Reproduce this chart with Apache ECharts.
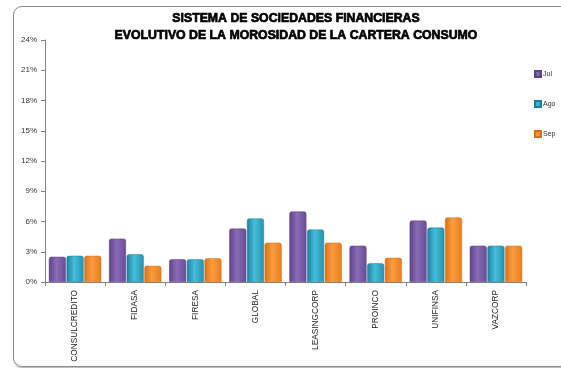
<!DOCTYPE html>
<html><head><meta charset="utf-8">
<script src="https://cdn.jsdelivr.net/npm/echarts@6/dist/echarts.min.js"></script>
<style>
html,body{margin:0;padding:0;background:#fff;}
#frame{position:absolute;left:13px;top:6px;width:560px;height:359px;border:1px solid #8a8a8a;border-radius:9px;box-shadow:1px 2px 2px #bbb;}
#c{position:absolute;left:0;top:0;width:561px;height:368px;}
</style></head>
<body>
<div id="frame"></div>
<div id="c"></div>
<script>
const categories = ['CONSULCREDITO','FIDASA','FIRESA','GLOBAL','LEASINGCORP','PROINCO','UNIFINSA','VAZCORP'];
const seriesNames = ['Jul','Ago','Sep'];
const julValues = [2.5, 4.3, 2.25, 5.3, 7.0, 3.6, 6.1, 3.6];
const agoValues = [2.6, 2.75, 2.25, 6.3, 5.2, 1.85, 5.4, 3.6];
const sepValues = [2.6, 1.6, 2.35, 3.9, 3.9, 2.4, 6.4, 3.6];
const yTicks = [0,3,6,9,12,15,18,21,24];

const colors = [
  ['#5e4385','#8a6bb6','#6a4c94'],
  ['#1f7f99','#44bedb','#2790ad'],
  ['#d8701a','#fb9c3c','#e57d20']
];
function grad(c){
  return new echarts.graphic.LinearGradient(0,0,1,0,[
    {offset:0,color:c[0]},{offset:0.45,color:c[1]},{offset:1,color:c[2]}
  ]);
}
const allValues = [julValues, agoValues, sepValues];
const chart = echarts.init(document.getElementById('c'));
chart.setOption({
  animation:false,
  title:{
    text:'SISTEMA DE SOCIEDADES FINANCIERAS\nEVOLUTIVO DE LA MOROSIDAD DE LA CARTERA CONSUMO',
    left:291, top:5, textAlign:'center',
    textStyle:{fontFamily:'Liberation Sans',fontWeight:'bold',fontSize:12.3,lineHeight:17,color:'#000',
      textBorderColor:'#000',textBorderWidth:0.7}
  },
  legend:{
    orient:'vertical', left:529, top:65, itemWidth:6, itemHeight:6, itemGap:22,
    icon:'rect',
    textStyle:{fontSize:7,color:'#333',fontFamily:'Liberation Sans',padding:[0,0,0,-3]},
    data:seriesNames
  },
  grid:{left:45,right:35,top:40,bottom:86},
  xAxis:{
    type:'category', data:categories,
    axisLine:{lineStyle:{color:'#808080'}},
    axisTick:{show:true,alignWithLabel:false,length:4,lineStyle:{color:'#808080'}},
    axisLabel:{rotate:90,fontSize:8.3,color:'#222',fontFamily:'Liberation Sans',margin:8}
  },
  yAxis:{
    type:'value', min:0, max:24, interval:3,
    axisLine:{show:true,lineStyle:{color:'#808080'}},
    axisTick:{show:true,inside:false,length:4,lineStyle:{color:'#808080'}},
    splitLine:{show:false},
    axisLabel:{formatter:v=>v+'%',fontSize:8,color:'#333',fontFamily:'Liberation Sans',margin:8}
  },
  series: seriesNames.map((n,i)=>({
    name:n, type:'bar', data:allValues[i],
    barWidth:17, barGap:'4%',
    itemStyle:{color:grad(colors[i]),borderColor:colors[i][0],borderWidth:0.5,borderRadius:[2,2,0,0]}
  })),
  color: colors.map(c=>c[2])
});
</script>
</body></html>
